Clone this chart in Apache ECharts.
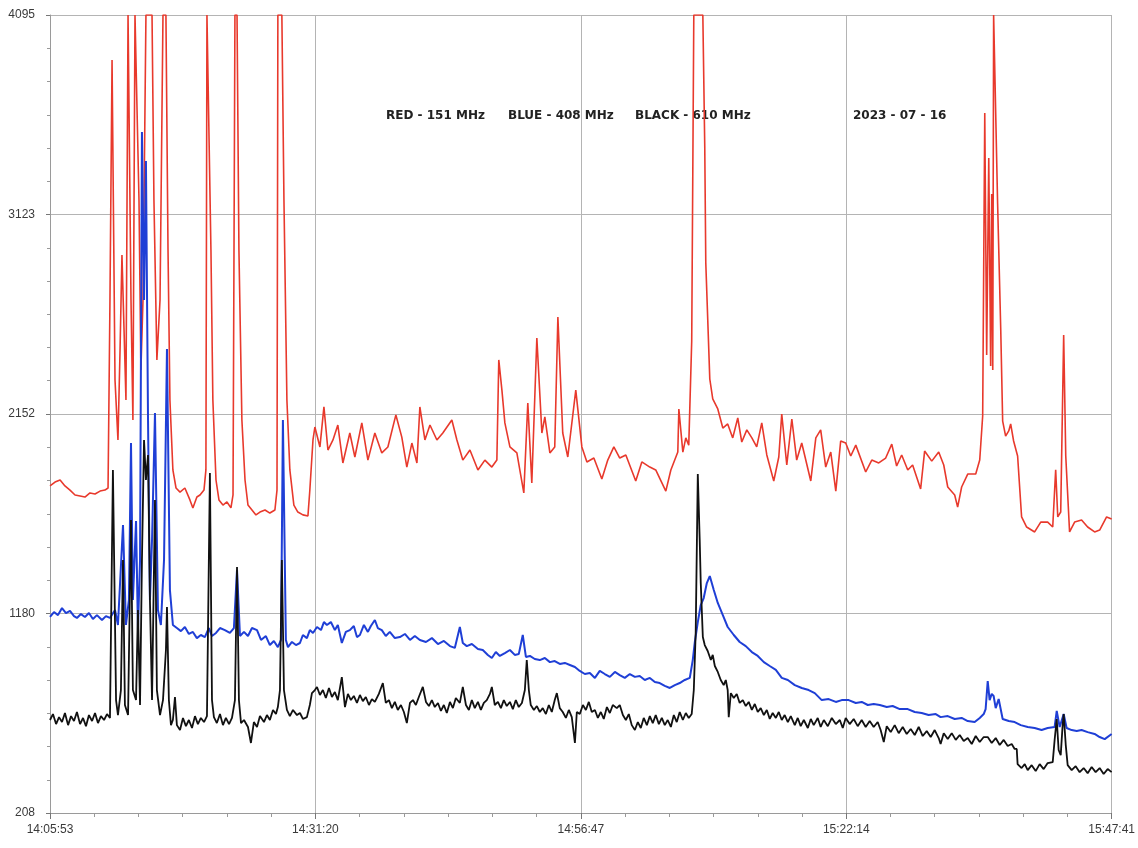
<!DOCTYPE html>
<html lang="en">
<head>
    <meta charset="UTF-8"/>
    <script src="https://cdn.jsdelivr.net/npm/echarts@6.0.0/dist/echarts.min.js"></script>
    <title>Solar radio 2023-07-16</title>
    <style>
        html, body { margin: 0; padding: 0; background: #ffffff; }
    </style>
</head>
<body>
<div id="main" style="width: 1138px;height:848px;"></div>
<script type="text/javascript">
    // tick labels as printed on the record
    var xLabels = ['14:05:53', '14:31:20', '14:56:47', '15:22:14', '15:47:41'];
    var yLabels = [208, 1180, 2152, 3123, 4095];
    var legendTexts = ['RED - 151 MHz', 'BLUE - 408 MHz', 'BLACK - 610 MHz'];
    var dateText = '2023 - 07 - 16';

    // [seconds after 14:05:53, counts]
    var red151 = [[0,1801],[29,1820],[58,1830],[86,1801],[115,1781],[144,1757],[173,1752],[201,1747],[230,1767],[259,1762],[288,1776],[316,1781],[334,1791],[345,2707],[357,3876],[374,2317],[391,2025],[403,2463],[414,2926],[426,2561],[437,2220],[449,4095],[454,4095],[466,2707],[477,2122],[489,4095],[500,4095],[512,3194],[523,2366],[535,2707],[552,4095],[587,4095],[598,3194],[615,2415],[633,2707],[650,4095],[667,4095],[679,2950],[690,2220],[707,1879],[725,1791],[748,1771],[776,1791],[805,1733],[822,1694],[845,1747],[863,1757],[886,1781],[897,1879],[903,4095],[914,4095],[926,2950],[937,2220],[955,1830],[972,1733],[995,1708],[1018,1723],[1041,1694],[1053,1757],[1064,4095],[1076,4095],[1087,2950],[1104,2122],[1122,1830],[1139,1708],[1162,1684],[1185,1660],[1208,1674],[1237,1684],[1265,1669],[1294,1684],[1306,1781],[1311,4095],[1334,4095],[1346,3194],[1363,2220],[1380,1879],[1403,1708],[1426,1674],[1455,1660],[1484,1655],[1495,1781],[1513,2025],[1524,2088],[1553,1991],[1576,2186],[1599,1976],[1628,2025],[1656,2098],[1685,1913],[1725,2059],[1754,1942],[1794,2108],[1829,1927],[1869,2059],[1909,1962],[1944,1991],[1990,2147],[2024,2039],[2053,1893],[2082,2010],[2111,1913],[2128,2186],[2157,2025],[2186,2098],[2226,2025],[2260,2059],[2312,2122],[2341,2025],[2375,1927],[2416,1976],[2462,1879],[2502,1927],[2542,1893],[2571,1927],[2582,2415],[2600,2268],[2617,2108],[2646,1991],[2686,1962],[2726,1767],[2749,2205],[2772,1815],[2801,2522],[2830,2059],[2847,2137],[2876,1962],[2904,1991],[2922,2624],[2950,2059],[2979,1942],[3025,2268],[3060,1991],[3089,1918],[3129,1937],[3175,1835],[3209,1927],[3244,1991],[3278,1937],[3313,1952],[3370,1825],[3405,1918],[3451,1893],[3485,1879],[3543,1776],[3572,1879],[3612,1966],[3618,2176],[3641,1966],[3658,2035],[3675,2000],[3692,2507],[3704,4095],[3756,4095],[3767,3457],[3773,2887],[3796,2322],[3813,2225],[3842,2176],[3871,2083],[3899,2103],[3928,2035],[3957,2132],[3980,2015],[4009,2074],[4038,2035],[4066,1991],[4095,2108],[4124,1952],[4164,1825],[4193,1942],[4210,2151],[4239,1903],[4268,2127],[4296,1927],[4325,2010],[4377,1825],[4406,2035],[4434,2074],[4463,1893],[4492,1966],[4521,1776],[4549,2020],[4578,2010],[4607,1947],[4636,2000],[4693,1869],[4728,1927],[4768,1913],[4808,1937],[4843,2005],[4871,1898],[4900,1952],[4935,1879],[4963,1903],[5009,1786],[5032,1971],[5073,1922],[5113,1966],[5142,1903],[5165,1796],[5205,1757],[5222,1698],[5245,1796],[5280,1859],[5326,1859],[5349,1927],[5366,2142],[5378,3618],[5389,2439],[5401,3398],[5412,2385],[5418,3223],[5424,2366],[5429,4095],[5452,3174],[5470,2561],[5481,2117],[5498,2044],[5516,2069],[5527,2103],[5544,2020],[5567,1947],[5590,1650],[5619,1601],[5665,1577],[5700,1625],[5740,1625],[5769,1601],[5786,1880],[5798,1650],[5815,1674],[5832,2536],[5844,1947],[5866,1577],[5895,1625],[5935,1635],[5970,1601],[6010,1577],[6039,1586],[6079,1650],[6108,1640]];

    var blue408 = [[0,1163],[23,1187],[46,1172],[69,1206],[92,1182],[115,1192],[138,1167],[155,1158],[178,1177],[201,1163],[224,1182],[247,1153],[270,1172],[299,1148],[322,1167],[345,1158],[374,1197],[391,1124],[420,1611],[437,1124],[454,1246],[466,2010],[477,1246],[495,1630],[506,1099],[518,1440],[529,3525],[541,2707],[552,3384],[564,2122],[575,1246],[587,1538],[604,2156],[621,1197],[638,1124],[656,1440],[673,2468],[690,1294],[707,1124],[730,1109],[753,1094],[776,1114],[799,1080],[822,1090],[845,1060],[868,1075],[891,1065],[914,1109],[932,1070],[955,1085],[978,1109],[1006,1099],[1035,1085],[1058,1109],[1076,1392],[1093,1070],[1116,1090],[1139,1070],[1162,1109],[1191,1099],[1214,1051],[1242,1070],[1265,1026],[1288,1046],[1311,1016],[1329,1051],[1340,2122],[1357,1051],[1369,1016],[1392,1041],[1415,1026],[1438,1036],[1455,1075],[1478,1060],[1495,1099],[1513,1085],[1536,1114],[1559,1099],[1576,1138],[1593,1124],[1616,1138],[1639,1099],[1656,1124],[1679,1036],[1702,1090],[1725,1099],[1748,1119],[1766,1065],[1783,1075],[1806,1124],[1829,1090],[1846,1119],[1869,1148],[1886,1109],[1909,1099],[1932,1070],[1955,1090],[1984,1060],[2013,1065],[2042,1080],[2071,1051],[2099,1070],[2128,1051],[2163,1041],[2197,1060],[2232,1031],[2266,1046],[2301,1021],[2329,1012],[2358,1114],[2375,1036],[2398,1021],[2427,1031],[2462,1007],[2490,1002],[2519,978],[2542,963],[2565,992],[2588,973],[2617,987],[2646,1002],[2674,978],[2697,982],[2720,1075],[2738,968],[2761,973],[2789,958],[2818,953],[2847,963],[2876,943],[2904,948],[2933,934],[2962,939],[2991,929],[3020,919],[3048,900],[3077,885],[3106,890],[3135,866],[3163,900],[3192,885],[3221,871],[3250,895],[3278,880],[3307,866],[3336,885],[3365,871],[3393,875],[3422,856],[3451,866],[3480,846],[3508,841],[3537,827],[3566,817],[3595,831],[3623,841],[3652,856],[3681,866],[3698,953],[3710,1041],[3727,1138],[3744,1221],[3761,1255],[3779,1328],[3796,1362],[3819,1294],[3842,1231],[3871,1172],[3899,1114],[3934,1075],[3968,1041],[4003,1021],[4038,992],[4072,973],[4107,943],[4141,924],[4176,905],[4210,866],[4245,856],[4285,831],[4325,817],[4365,807],[4400,792],[4440,758],[4480,763],[4521,749],[4555,758],[4595,758],[4636,744],[4670,749],[4705,734],[4739,739],[4774,734],[4814,724],[4848,729],[4889,714],[4935,714],[4975,700],[5015,695],[5055,685],[5096,690],[5124,675],[5165,680],[5205,666],[5245,671],[5280,656],[5320,651],[5349,671],[5372,690],[5383,714],[5395,851],[5406,758],[5418,788],[5429,778],[5441,719],[5458,763],[5481,666],[5516,656],[5550,651],[5585,636],[5625,627],[5665,622],[5705,612],[5740,622],[5780,627],[5792,705],[5809,627],[5832,690],[5849,622],[5878,612],[5907,607],[5935,612],[5970,602],[6010,593],[6039,578],[6068,568],[6108,593]];

    var black610 = [[0,661],[17,690],[35,641],[52,675],[69,651],[86,695],[104,636],[121,680],[138,656],[155,700],[173,641],[190,671],[207,631],[224,685],[242,656],[259,695],[276,646],[293,680],[311,661],[328,690],[345,671],[362,1879],[380,758],[391,685],[408,807],[420,1440],[431,734],[449,685],[466,1635],[477,807],[495,758],[506,1197],[518,734],[529,1440],[541,2025],[552,1830],[564,1952],[575,1246],[587,758],[604,1733],[615,807],[633,685],[650,758],[667,1002],[673,1211],[684,758],[696,636],[707,661],[719,773],[730,636],[748,612],[765,671],[782,631],[799,661],[817,622],[834,680],[851,641],[868,671],[886,651],[903,680],[920,1864],[932,758],[943,675],[960,646],[978,690],[995,636],[1012,671],[1030,641],[1047,671],[1064,758],[1076,1406],[1087,758],[1099,646],[1116,661],[1139,627],[1156,549],[1173,651],[1191,627],[1208,680],[1231,651],[1248,685],[1265,661],[1283,710],[1300,690],[1311,724],[1323,807],[1334,1440],[1346,807],[1363,710],[1380,680],[1398,710],[1421,685],[1438,695],[1455,666],[1478,675],[1495,734],[1507,792],[1524,807],[1536,822],[1553,783],[1570,807],[1587,768],[1605,817],[1622,773],[1639,797],[1656,758],[1679,870],[1697,724],[1714,788],[1731,758],[1748,778],[1766,744],[1783,783],[1800,753],[1817,773],[1835,734],[1852,763],[1869,749],[1892,788],[1915,841],[1932,744],[1950,758],[1967,719],[1984,749],[2001,710],[2019,734],[2036,700],[2053,646],[2071,744],[2088,758],[2105,734],[2122,773],[2145,822],[2163,749],[2180,729],[2197,758],[2214,724],[2232,744],[2249,705],[2266,734],[2283,695],[2301,749],[2318,719],[2335,768],[2358,744],[2375,822],[2393,734],[2410,710],[2427,758],[2444,719],[2462,749],[2479,710],[2496,744],[2513,758],[2531,788],[2542,822],[2559,734],[2577,749],[2594,719],[2611,758],[2628,729],[2646,749],[2663,714],[2680,758],[2697,724],[2715,744],[2732,807],[2743,953],[2755,807],[2766,734],[2784,710],[2801,729],[2818,700],[2835,719],[2853,690],[2870,734],[2887,700],[2904,758],[2916,792],[2933,719],[2950,700],[2968,671],[2985,710],[3002,675],[3020,549],[3031,700],[3048,690],[3066,734],[3083,710],[3100,749],[3117,700],[3135,710],[3152,671],[3169,700],[3186,666],[3204,724],[3221,695],[3238,734],[3261,719],[3278,734],[3296,685],[3313,661],[3330,690],[3347,636],[3365,612],[3382,651],[3399,622],[3416,671],[3434,636],[3451,680],[3468,646],[3485,685],[3503,641],[3520,671],[3537,636],[3554,661],[3572,627],[3589,685],[3606,651],[3623,700],[3641,661],[3658,695],[3675,671],[3692,690],[3704,807],[3715,1090],[3727,1859],[3738,1538],[3744,1328],[3756,1065],[3767,1026],[3784,997],[3802,953],[3813,978],[3825,924],[3842,895],[3859,856],[3876,831],[3888,856],[3899,807],[3905,675],[3917,792],[3934,768],[3951,788],[3968,744],[3986,758],[4003,729],[4020,749],[4038,710],[4055,739],[4072,700],[4089,719],[4107,685],[4124,710],[4141,666],[4158,695],[4176,671],[4193,700],[4210,661],[4227,685],[4245,651],[4262,680],[4285,636],[4302,671],[4319,631],[4337,661],[4360,622],[4377,666],[4394,636],[4417,671],[4434,627],[4452,661],[4475,631],[4498,671],[4521,641],[4544,661],[4561,622],[4578,671],[4601,641],[4624,666],[4647,631],[4670,661],[4693,627],[4716,656],[4739,627],[4762,651],[4779,612],[4797,554],[4814,631],[4837,602],[4860,636],[4883,597],[4906,627],[4929,593],[4952,617],[4975,588],[4998,627],[5021,583],[5044,607],[5067,578],[5090,612],[5113,573],[5124,544],[5142,597],[5165,568],[5188,597],[5211,564],[5234,588],[5257,559],[5280,573],[5303,544],[5326,583],[5349,554],[5372,578],[5395,578],[5418,549],[5441,573],[5464,539],[5487,564],[5510,534],[5533,544],[5550,520],[5562,520],[5567,446],[5590,427],[5608,446],[5625,417],[5648,441],[5671,412],[5694,446],[5717,422],[5740,451],[5769,456],[5780,564],[5792,666],[5803,515],[5815,490],[5826,636],[5832,690],[5844,539],[5855,441],[5878,417],[5901,436],[5924,407],[5947,427],[5970,402],[5993,432],[6016,407],[6039,427],[6062,398],[6085,422],[6108,407]];

    // axis set-up derived from the printed labels
    var xStep = 1527;                       // seconds between printed times
    var xMax = xStep * (xLabels.length - 1);
    var yBase = yLabels[0];
    var yStep = (yLabels[yLabels.length - 1] - yBase) / (yLabels.length - 1);
    var yMax = yStep * (yLabels.length - 1);

    // plot against (counts - 208) so the tick count starts at 0
    function shift(arr) {
        return arr.map(function (p) { return [p[0], p[1] - yBase]; });
    }

    var myChart = echarts.init(document.getElementById('main'));

    var axisFont = '"Liberation Sans", Arial, sans-serif';
    var textFont = 'bold 12px "DejaVu Sans", sans-serif';

    option = {
        backgroundColor: '#ffffff',
        animation: false,
        grid: {
            left: 50,
            right: 26,
            top: 15,
            bottom: 35
        },
        xAxis: {
            type: 'value',
            min: 0,
            max: xMax,
            interval: xStep,
            axisLine: { lineStyle: { color: '#9a9a9a', width: 1 } },
            axisTick: { show: true, length: 6, lineStyle: { color: '#777' } },
            minorTick: { show: true, splitNumber: 6, length: 4, lineStyle: { color: '#999' } },
            splitLine: { show: true, lineStyle: { color: '#b4b4b4', width: 1 } },
            axisLabel: {
                margin: 11,
                fontSize: 12,
                color: '#3a3a3a',
                fontFamily: axisFont,
                showMinLabel: true,
                showMaxLabel: true,
                formatter: function (v) {
                    return xLabels[Math.round(v / xStep)];
                }
            }
        },
        yAxis: {
            type: 'value',
            min: 0,
            max: yMax,
            interval: yStep,
            axisLine: { show: true, lineStyle: { color: '#9a9a9a', width: 1 } },
            axisTick: { show: true, length: 4, lineStyle: { color: '#777' } },
            minorTick: { show: true, splitNumber: 6, length: 3, lineStyle: { color: '#999' } },
            splitLine: { show: true, lineStyle: { color: '#b4b4b4', width: 1 } },
            axisLabel: {
                margin: 15,
                fontSize: 12,
                color: '#3a3a3a',
                fontFamily: axisFont,
                formatter: function (v) {
                    return yLabels[Math.round(v / yStep)];
                }
            }
        },
        graphic: [
            { type: 'text', left: 386, top: 110, style: { text: legendTexts[0], font: textFont, fill: '#222' } },
            { type: 'text', left: 508, top: 110, style: { text: legendTexts[1], font: textFont, fill: '#222' } },
            { type: 'text', left: 635, top: 110, style: { text: legendTexts[2], font: textFont, fill: '#222' } },
            { type: 'text', left: 853, top: 110, style: { text: dateText, font: textFont, fill: '#222' } }
        ],
        series: [
            {
                name: '151 MHz',
                type: 'line',
                data: shift(red151),
                showSymbol: false,
                symbol: 'none',
                lineStyle: { color: '#e8392c', width: 1.6 },
                z: 2
            },
            {
                name: '408 MHz',
                type: 'line',
                data: shift(blue408),
                showSymbol: false,
                symbol: 'none',
                lineStyle: { color: '#1f3fd6', width: 2 },
                z: 3
            },
            {
                name: '610 MHz',
                type: 'line',
                data: shift(black610),
                showSymbol: false,
                symbol: 'none',
                lineStyle: { color: '#111111', width: 1.8 },
                z: 4
            }
        ]
    };

    myChart.setOption(option);
</script>
</body>
</html>
